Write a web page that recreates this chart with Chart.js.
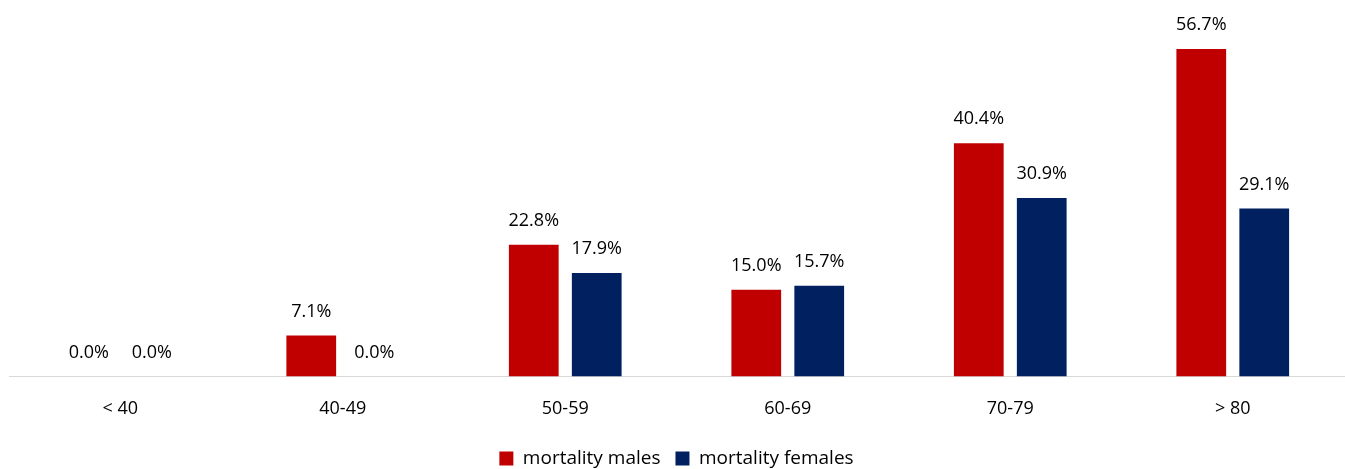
<!DOCTYPE html>
<html>
<head>
<meta charset="utf-8">
<script src="https://cdn.jsdelivr.net/npm/chart.js@4"></script>
<style>
  html, body { margin: 0; padding: 0; background: #fff; }
  #wrap { width: 1345px; height: 469px; position: relative; }
</style>
</head>
<body>
<div id="wrap"><canvas id="mortalityChart"></canvas></div>
<script>
const categories = ["< 40", "40-49", "50-59", "60-69", "70-79", "> 80"];
const malesValues = [0.0, 7.1, 22.8, 15.0, 40.4, 56.7];
const femalesValues = [0.0, 0.0, 17.9, 15.7, 30.9, 29.1];
const seriesNames = ["mortality males", "mortality females"];

const FONT = "'Open Sans', 'Liberation Sans', sans-serif";

// draws the value above each bar
const valueLabels = {
    id: "valueLabels",
    afterDatasetsDraw(chart) {
        const ctx = chart.ctx;
        ctx.save();
        ctx.font = "18px " + FONT;
        ctx.fillStyle = "#000";
        ctx.textAlign = "center";
        ctx.textBaseline = "middle";
        chart.data.datasets.forEach((ds, i) => {
            chart.getDatasetMeta(i).data.forEach((bar, j) => {
                ctx.fillText(ds.data[j].toFixed(1) + "%", bar.x, bar.y - 24);
            });
        });
        ctx.restore();
    }
};

new Chart(document.getElementById("mortalityChart"), {
    type: "bar",
    data: {
        labels: categories,
        datasets: [
            {
                label: seriesNames[0],
                data: malesValues,
                backgroundColor: "#C00000",
                categoryPercentage: 0.566,
                barPercentage: 0.79
            },
            {
                label: seriesNames[1],
                data: femalesValues,
                backgroundColor: "#002060",
                categoryPercentage: 0.566,
                barPercentage: 0.79
            }
        ]
    },
    options: {
        responsive: true,
        maintainAspectRatio: false,
        animation: false,
        layout: { padding: { top: 30, left: 9, right: 1, bottom: -9 } },
        plugins: {
            legend: {
                position: "bottom",
                labels: {
                    font: { family: FONT, size: 19 },
                    color: "#000",
                    boxWidth: 14,
                    boxHeight: 14,
                    padding: 15
                }
            },
            tooltip: { enabled: false }
        },
        scales: {
            y: {
                display: false,
                min: 0,
                max: 60
            },
            x: {
                grid: { display: false },
                border: { color: "#d9d9d9", width: 1 },
                ticks: {
                    font: { family: FONT, size: 18 },
                    color: "#000",
                    padding: 14
                }
            }
        }
    },
    plugins: [valueLabels]
});
</script>
</body>
</html>
